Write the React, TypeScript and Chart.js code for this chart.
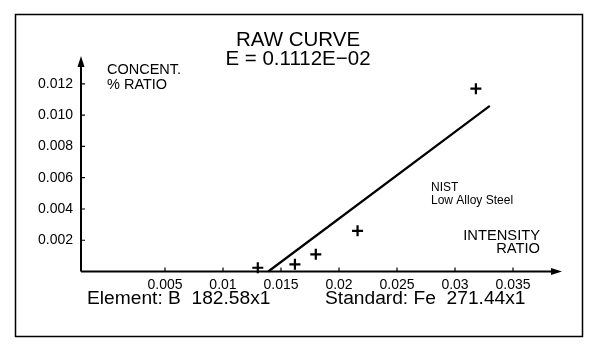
import React, { useEffect, useRef } from "react";
import { Chart, registerables } from "chart.js";

Chart.register(...registerables);

// ---- data ----
const intensityRatio = [0.0130, 0.0162, 0.0180, 0.0216, 0.0318];
const concentRatio = [0.00024, 0.00046, 0.0011, 0.0026, 0.0117];
const fitX = [0.0139, 0.0330];
const fitY = [0.0, 0.01059];
const xTickValues = [0.005, 0.01, 0.015, 0.02, 0.025, 0.03, 0.035];
const xTickLabels = ["0.005", "0.01", "0.015", "0.02", "0.025", "0.03", "0.035"];
const yTickValues = [0.002, 0.004, 0.006, 0.008, 0.01, 0.012];
const yTickLabels = ["0.002", "0.004", "0.006", "0.008", "0.010", "0.012"];
const titleLines = ["RAW CURVE", "E = 0.1112E\u221202"];
const yAxisTitle = ["CONCENT.", "% RATIO"];
const xAxisTitle = ["INTENSITY", "RATIO"];
const noteLines = ["NIST", "Low Alloy Steel"];
const footerLeft = "Element: B  182.58x1";
const footerRight = "Standard: Fe  271.44x1";

const FONT = "'Liberation Sans', Arial, Helvetica, sans-serif";

const decorPlugin = {
  id: "decor",
  afterDraw(chart: any) {
    const ctx = chart.ctx as CanvasRenderingContext2D;
    const xs = chart.scales.x;
    const ys = chart.scales.y;
    const left = xs.left;
    const bottom = ys.bottom;
    const top = ys.top;
    const right = xs.right;
    ctx.save();
    ctx.strokeStyle = "#000";
    ctx.fillStyle = "#000";
    // outer frame
    ctx.lineWidth = 1.5;
    ctx.strokeRect(15.5, 14.5, 567, 322);
    // axes
    ctx.lineWidth = 2;
    ctx.beginPath();
    ctx.moveTo(left, bottom);
    ctx.lineTo(left, top + 6);
    ctx.moveTo(left, bottom);
    ctx.lineTo(right - 6, bottom);
    ctx.stroke();
    // arrow heads
    ctx.beginPath();
    ctx.moveTo(left, top - 2);
    ctx.lineTo(left - 3.5, top + 9);
    ctx.lineTo(left + 3.5, top + 9);
    ctx.closePath();
    ctx.fill();
    ctx.beginPath();
    ctx.moveTo(right + 2, bottom);
    ctx.lineTo(right - 9, bottom - 3.5);
    ctx.lineTo(right - 9, bottom + 3.5);
    ctx.closePath();
    ctx.fill();
    // tick marks (inward)
    ctx.lineWidth = 1.2;
    ctx.beginPath();
    yTickValues.forEach((v) => {
      const py = ys.getPixelForValue(v);
      ctx.moveTo(left, py);
      ctx.lineTo(left + 4, py);
    });
    xTickValues.forEach((v) => {
      const px = xs.getPixelForValue(v);
      ctx.moveTo(px, bottom);
      ctx.lineTo(px, bottom - 4);
    });
    ctx.stroke();

    ctx.textBaseline = "middle";
    // title
    ctx.textAlign = "center";
    ctx.font = `20.5px ${FONT}`;
    ctx.fillText(titleLines[0], 298, 40);
    ctx.fillText(titleLines[1], 298, 59);
    // y-axis title
    ctx.textAlign = "left";
    ctx.font = `14.5px ${FONT}`;
    ctx.fillText(yAxisTitle[0], 107, 70);
    ctx.fillText(yAxisTitle[1], 107, 85);
    // note
    ctx.font = `12px ${FONT}`;
    ctx.fillText(noteLines[0], 431, 188);
    ctx.fillText(noteLines[1], 431, 201);
    // x-axis title
    ctx.textAlign = "right";
    ctx.font = `14.7px ${FONT}`;
    ctx.fillText(xAxisTitle[0], 540, 236);
    ctx.fillText(xAxisTitle[1], 540, 249);
    // footer
    ctx.textAlign = "left";
    ctx.font = `19.2px ${FONT}`;
    ctx.fillText(footerLeft, 87, 299);
    ctx.fillText(footerRight, 325, 299);
    ctx.restore();
  },
};

export default function App() {
  const ref = useRef<HTMLCanvasElement | null>(null);
  useEffect(() => {
    if (!ref.current) return;
    const chart = new Chart(ref.current, {
      type: "scatter",
      data: {
        datasets: [
          {
            label: "fit",
            data: fitX.map((x, i) => ({ x, y: fitY[i] })),
            showLine: true,
            borderColor: "#000",
            borderWidth: 2.2,
            pointRadius: 0,
            clip: false as any,
          },
          {
            label: "standards",
            data: intensityRatio.map((x, i) => ({ x, y: concentRatio[i] })),
            pointStyle: "cross",
            pointRadius: 5.5,
            borderColor: "#000",
            backgroundColor: "#000",
            borderWidth: 2.2,
            showLine: false,
            clip: false as any,
          },
        ],
      },
      options: {
        responsive: false,
        animation: false,
        devicePixelRatio: 1,
        layout: { padding: { top: 58, right: 35, left: 0, bottom: 0 } },
        plugins: {
          legend: { display: false },
          tooltip: { enabled: false },
          title: { display: false },
        },
        scales: {
          x: {
            type: "linear",
            min: -0.00224,
            max: 0.03905,
            grid: { display: false, drawTicks: false },
            border: { display: false },
            afterFit: (s: any) => {
              s.height = 80.5;
            },
            afterBuildTicks: (s: any) => {
              s.ticks = xTickValues.map((v) => ({ value: v }));
            },
            ticks: {
              autoSkip: false,
              maxRotation: 0,
              padding: 5,
              color: "#000",
              font: { family: FONT, size: 14 },
              callback: (v: any) => {
                const i = xTickValues.findIndex((t) => Math.abs(t - v) < 1e-9);
                return i >= 0 ? xTickLabels[i] : "";
              },
            },
          },
          y: {
            type: "linear",
            min: 0,
            max: 0.01366,
            grid: { display: false, drawTicks: false },
            border: { display: false },
            afterFit: (s: any) => {
              s.width = 81;
            },
            afterBuildTicks: (s: any) => {
              s.ticks = yTickValues.map((v) => ({ value: v }));
            },
            ticks: {
              autoSkip: false,
              padding: 8,
              color: "#000",
              font: { family: FONT, size: 14 },
              callback: (v: any) => {
                const i = yTickValues.findIndex((t) => Math.abs(t - v) < 1e-9);
                return i >= 0 ? yTickLabels[i] : "";
              },
            },
          },
        },
      },
      plugins: [decorPlugin],
    });
    return () => chart.destroy();
  }, []);
  return (
    <div style={{ position: "absolute", left: 0, top: 0, width: 595, height: 352, background: "#fff" }}>
      <canvas ref={ref} width={595} height={352} style={{ display: "block" }} />
    </div>
  );
}
